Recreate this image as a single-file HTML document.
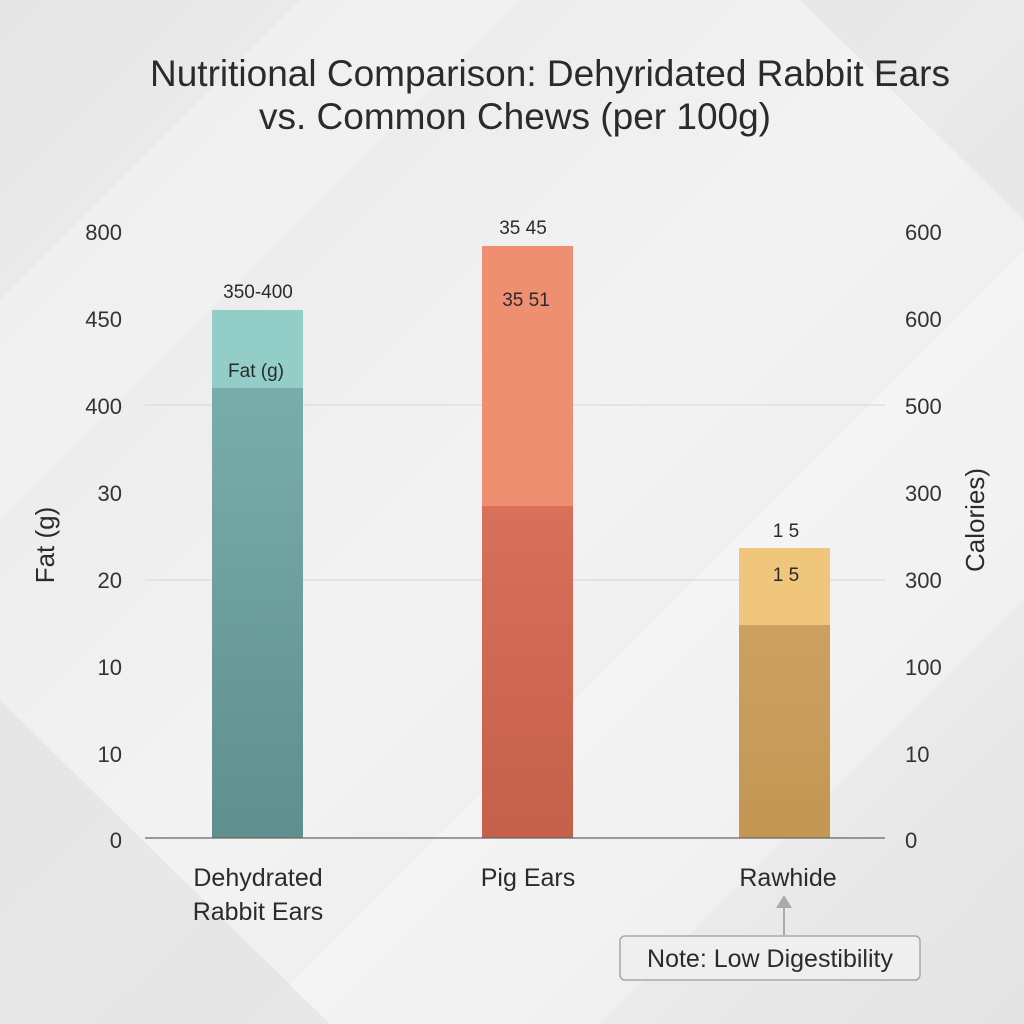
<!DOCTYPE html>
<html><head><meta charset="utf-8"><style>
html,body{margin:0;padding:0;width:1024px;height:1024px;overflow:hidden;}
svg{display:block;font-family:"Liberation Sans",sans-serif;}
</style></head><body>
<svg width="1024" height="1024" viewBox="0 0 1024 1024">
<defs>
<linearGradient id="bg" x1="0" y1="0" x2="1" y2="1">
<stop offset="0" stop-color="#e6e6e6"/><stop offset="0.5" stop-color="#f3f3f3"/><stop offset="1" stop-color="#e4e4e4"/>
</linearGradient>
<linearGradient id="b1" x1="0" y1="0" x2="0" y2="1"><stop offset="0" stop-color="#79adac"/><stop offset="1" stop-color="#5f8f8e"/></linearGradient>
<linearGradient id="b2" x1="0" y1="0" x2="0" y2="1"><stop offset="0" stop-color="#d8705a"/><stop offset="1" stop-color="#c5604b"/></linearGradient>
<linearGradient id="b3" x1="0" y1="0" x2="0" y2="1"><stop offset="0" stop-color="#cca061"/><stop offset="1" stop-color="#c39752"/></linearGradient>
</defs>
<rect width="1024" height="1024" fill="url(#bg)"/>
<polygon points="0,300 300,0 520,0 0,520" fill="#ffffff" opacity="0.25"/>
<polygon points="250,1024 1024,250 1024,600 600,1024" fill="#ffffff" opacity="0.3"/>
<polygon points="0,700 330,1024 0,1024" fill="#d8d8d8" opacity="0.4"/>
<polygon points="800,0 1024,0 1024,220" fill="#dcdcdc" opacity="0.4"/>
<text x="550" y="86" font-size="37" fill="#2b2b2b" text-anchor="middle">Nutritional Comparison: Dehyridated Rabbit Ears</text>
<text x="515" y="129" font-size="37" fill="#2b2b2b" text-anchor="middle">vs. Common Chews (per 100g)</text>
<line x1="145" y1="405" x2="885" y2="405" stroke="#d6d6d6" stroke-width="1"/>
<line x1="145" y1="580" x2="885" y2="580" stroke="#d6d6d6" stroke-width="1"/>
<g font-size="22" fill="#333" text-anchor="end">
<text x="122" y="240">800</text><text x="122" y="327">450</text><text x="122" y="414">400</text><text x="122" y="501">30</text><text x="122" y="588">20</text><text x="122" y="675">10</text><text x="122" y="762">10</text><text x="122" y="848">0</text>
</g>
<g font-size="22" fill="#333">
<text x="905" y="240">600</text><text x="905" y="327">600</text><text x="905" y="414">500</text><text x="905" y="501">300</text><text x="905" y="588">300</text><text x="905" y="675">100</text><text x="905" y="762">10</text><text x="905" y="848">0</text>
</g>
<text transform="translate(54,545) rotate(-90)" font-size="26" fill="#2b2b2b" text-anchor="middle">Fat (g)</text>
<text transform="translate(984,520) rotate(-90)" font-size="26" fill="#2b2b2b" text-anchor="middle">Calories)</text>
<rect x="212" y="310" width="91" height="80" fill="#93cdc7"/>
<rect x="212" y="388" width="91" height="450" fill="url(#b1)"/>
<rect x="482" y="246" width="91" height="262" fill="#ee8f72"/>
<rect x="482" y="506" width="91" height="332" fill="url(#b2)"/>
<rect x="739" y="548" width="91" height="78" fill="#f0c67c"/>
<rect x="739" y="625" width="91" height="213" fill="url(#b3)"/>
<line x1="145" y1="838" x2="885" y2="838" stroke="#666" stroke-width="1.2"/>
<g font-size="19" fill="#2b2b2b" text-anchor="middle">
<text x="258" y="298">350-400</text><text x="256" y="377">Fat (g)</text>
<text x="523" y="234">35 45</text><text x="526" y="306">35 51</text>
<text x="786" y="537">1 5</text><text x="786" y="581">1 5</text>
</g>
<g font-size="25" fill="#2b2b2b" text-anchor="middle">
<text x="258" y="886">Dehydrated</text><text x="258" y="920">Rabbit Ears</text>
<text x="528" y="886">Pig Ears</text><text x="788" y="886">Rawhide</text>
</g>
<line x1="784" y1="935" x2="784" y2="905" stroke="#aaa" stroke-width="2"/>
<polygon points="776,908 792,908 784,895" fill="#aaa"/>
<rect x="620" y="936" width="300" height="44" rx="5" fill="#efefef" stroke="#a8a8a8" stroke-width="1.5"/>
<text x="770" y="967" font-size="25" fill="#2b2b2b" text-anchor="middle">Note: Low Digestibility</text>
</svg>
</body></html>
